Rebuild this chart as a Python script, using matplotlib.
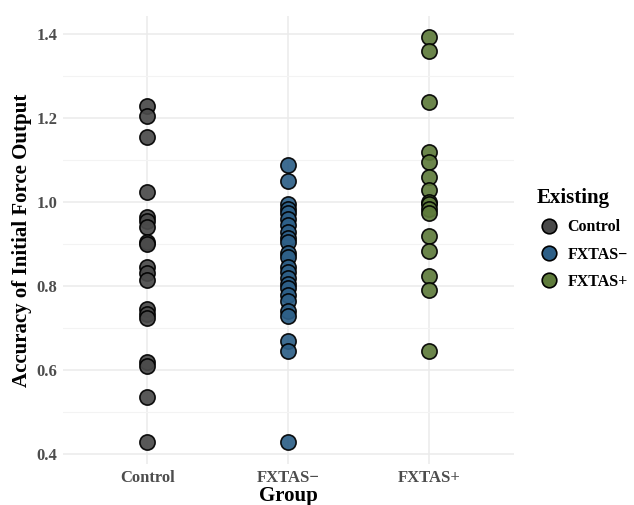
import numpy as np
import matplotlib.pyplot as plt
from matplotlib.lines import Line2D

# Accuracy of initial force output per group
groups = ["Control", "FXTAS\u2212", "FXTAS+"]
control_vals = [1.23, 1.205, 1.155, 1.025, 0.965, 0.955, 0.94, 0.905, 0.90,
                0.845, 0.832, 0.815, 0.745, 0.735, 0.725, 0.62, 0.61, 0.535, 0.43]
fxtas_neg_vals = [1.09, 1.05, 0.995, 0.985, 0.975, 0.96, 0.945, 0.93, 0.915,
                  0.905, 0.88, 0.87, 0.845, 0.835, 0.82, 0.805, 0.795, 0.78,
                  0.765, 0.74, 0.73, 0.67, 0.645, 0.43]
fxtas_pos_vals = [1.395, 1.36, 1.24, 1.12, 1.095, 1.06, 1.03, 1.0, 0.995,
                  0.985, 0.975, 0.92, 0.885, 0.825, 0.79, 0.645]
colors = ["#4a4a4a", "#2d5f87", "#5e7b3b"]

serif = ["Liberation Serif", "DejaVu Serif"]
plt.rcParams["font.family"] = serif
plt.rcParams["font.weight"] = "bold"

fig = plt.figure(figsize=(6.34, 5.05), dpi=100)
ax = fig.add_axes([0.0994, 0.0812, 0.7106, 0.8868])

series = [control_vals, fxtas_neg_vals, fxtas_pos_vals]
for i, (vals, col) in enumerate(zip(series, colors)):
    ax.scatter(np.full(len(vals), i + 1), vals, s=120, c=col, edgecolors="black",
               linewidths=1.2, alpha=0.92, zorder=3)

ax.set_xlim(0.4, 3.6)
ax.set_ylim(0.3765, 1.4435)
ax.set_xticks([1, 2, 3])
ax.set_xticklabels(groups)
ax.set_yticks([0.4, 0.6, 0.8, 1.0, 1.2, 1.4])
ax.set_yticks([0.5, 0.7, 0.9, 1.1, 1.3], minor=True)
ax.yaxis.set_major_formatter(plt.FuncFormatter(lambda v, p: f"{v:.1f}"))

ax.grid(True, which="major", color="#ebebeb", linewidth=1.1, zorder=0)
ax.grid(True, which="minor", axis="y", color="#f3f3f3", linewidth=0.8, zorder=0)
for s in ax.spines.values():
    s.set_visible(False)
ax.tick_params(which="both", length=0, colors="#4d4d4d", labelsize=12)
ax.tick_params(axis="x", pad=4)
ax.tick_params(axis="y", pad=4)
for lab in ax.get_xticklabels() + ax.get_yticklabels():
    lab.set_fontweight("bold")

ax.set_xlabel("Group", fontsize=15, fontweight="bold", labelpad=0.3)
ax.set_ylabel("Accuracy of Initial Force Output", fontsize=15, fontweight="bold", labelpad=3)

handles = [Line2D([], [], marker="o", linestyle="none", markersize=10.5,
                  markerfacecolor=c, markeredgecolor="black", markeredgewidth=1.2)
           for c in colors]
leg = fig.legend(handles, groups, title="Existing", loc="upper left",
                 bbox_to_anchor=(0.836, 0.64), frameon=False,
                 prop={"size": 11.5, "weight": "bold"}, handletextpad=0.35,
                 handlelength=1.6, labelspacing=0.7, borderaxespad=0)
leg.get_title().set_fontsize(15)
leg.get_title().set_fontweight("bold")
leg._legend_box.align = "left"

fig.savefig("out.png", dpi=100)
